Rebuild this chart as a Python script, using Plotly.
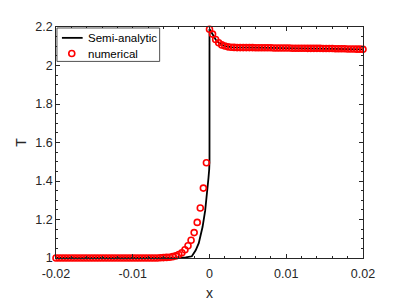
import plotly.graph_objects as go

# ---- data ----
# numerical solution on a uniform grid x = -0.02 ... 0.02 (step 0.0004)
X_START = -0.02
X_STEP = 0.0004
NUM_T = [
    1.000, 1.000, 1.000, 1.000, 1.000, 1.000, 1.000, 1.000, 1.000, 1.000,
    1.000, 1.000, 1.000, 1.000, 1.000, 1.000, 1.000, 1.000, 1.000, 1.000,
    1.000, 1.000, 1.000, 1.000, 1.000, 1.000, 1.000, 1.000, 1.000, 1.000,
    1.000, 1.000, 1.000, 1.000, 1.001, 1.002, 1.003, 1.004, 1.007, 1.011,
    1.018, 1.027, 1.043, 1.064, 1.092, 1.132, 1.185, 1.260, 1.363, 1.495,
    2.188,
    2.163, 2.135, 2.118, 2.107, 2.101, 2.097, 2.095, 2.094, 2.093, 2.093,
    2.093, 2.093, 2.093, 2.093, 2.092, 2.092, 2.092, 2.092, 2.092, 2.092,
    2.091, 2.091, 2.091, 2.091, 2.091, 2.091, 2.090, 2.090, 2.090, 2.090,
    2.090, 2.089, 2.089, 2.089, 2.089, 2.089, 2.088, 2.088, 2.088, 2.088,
    2.087, 2.087, 2.087, 2.087, 2.086, 2.086, 2.086, 2.085, 2.085, 2.084,
]

# semi-analytic solution
LINE_X = [-0.02, -0.008, -0.006, -0.005, -0.004, -0.0031, -0.0023, -0.0018,
          -0.0014, -0.0009, -0.00056, -0.00031, -0.00013, -0.00004, 0.0, 0.0,
          0.0004, 0.0008, 0.0012, 0.0016, 0.002, 0.003, 0.005, 0.01, 0.015, 0.02]
LINE_T = [1.0, 1.0, 1.0, 1.0003, 1.001, 1.003, 1.009, 1.04,
          1.077, 1.162, 1.247, 1.332, 1.417, 1.46, 1.5, 2.19,
          2.163, 2.135, 2.118, 2.107, 2.100, 2.094, 2.092, 2.090, 2.087, 2.084]

SERIES_NAMES = ["Semi-analytic", "numerical"]
X_TICKS = [-0.02, -0.01, 0, 0.01, 0.02]
X_TICK_LABELS = ["-0.02", "-0.01", "0", "0.01", "0.02"]
Y_TICKS = [1, 1.2, 1.4, 1.6, 1.8, 2, 2.2]
Y_TICK_LABELS = ["1", "1.2", "1.4", "1.6", "1.8", "2", "2.2"]

AX = "#262626"
RED = "#ff0000"
FONT = "Liberation Sans, Arial, Helvetica, sans-serif"

fig = go.Figure()
fig.add_trace(go.Scatter(
    x=LINE_X, y=LINE_T, mode="lines", name=SERIES_NAMES[0],
    line=dict(color="black", width=1.8), cliponaxis=False, showlegend=False,
))
fig.add_trace(go.Scatter(
    x0=X_START, dx=X_STEP, y=NUM_T, mode="markers", name=SERIES_NAMES[1],
    marker=dict(symbol="circle-open", size=6, color=RED,
                line=dict(width=1.6, color=RED)),
    cliponaxis=False, showlegend=False,
))

axis_common = dict(
    showline=True, linecolor=AX, linewidth=0.8, mirror="allticks",
    ticks="inside", ticklen=4, tickcolor=AX, tickwidth=0.8,
    showgrid=False, zeroline=False,
    tickfont=dict(family=FONT, size=12.5, color=AX),
)

fig.update_xaxes(
    range=[-0.02, 0.02], tickvals=X_TICKS, ticktext=X_TICK_LABELS,
    ticklabelstandoff=4,
    title=dict(text="x", font=dict(family=FONT, size=14, color=AX)),
    minor=dict(ticks="inside", dtick=0.002, ticklen=2, tickcolor=AX, tickwidth=0.8),
    automargin=False,
    **axis_common,
)
fig.update_yaxes(
    range=[1, 2.2], tickvals=Y_TICKS, ticktext=Y_TICK_LABELS,
    title=dict(text="T", font=dict(family=FONT, size=14, color=AX), standoff=5),
    minor=dict(ticks="inside", dtick=0.05, ticklen=2, tickcolor=AX, tickwidth=0.8),
    automargin=True,
    **axis_common,
)

# legend box drawn in paper coordinates (MATLAB-style compact legend)
shapes = [
    dict(type="rect", xref="paper", yref="paper", x0=0.0032, x1=0.3376,
         y0=0.851, y1=0.9957, fillcolor="white", line=dict(color=AX, width=0.8),
         layer="above"),
    dict(type="line", xref="paper", yref="paper", x0=0.0193, x1=0.0868,
         y0=0.953, y1=0.953, line=dict(color="black", width=1.8), layer="above"),
    dict(type="circle", xref="paper", yref="paper", xsizemode="pixel",
         ysizemode="pixel", xanchor=0.0514, yanchor=0.885,
         x0=-3, x1=3, y0=-3, y1=3, line=dict(color=RED, width=1.6), layer="above"),
]
annotations = [
    dict(text=SERIES_NAMES[0], xref="paper", yref="paper", x=0.0965, y=0.953,
         xanchor="left", yanchor="middle", showarrow=False,
         font=dict(family=FONT, size=11.5, color="black")),
    dict(text=SERIES_NAMES[1], xref="paper", yref="paper", x=0.0965, y=0.885,
         xanchor="left", yanchor="middle", showarrow=False,
         font=dict(family=FONT, size=11.5, color="black")),
]

fig.update_layout(
    width=394, height=293,
    margin=dict(l=44, r=39, t=15, b=43),
    paper_bgcolor="white", plot_bgcolor="white",
    showlegend=False,
    shapes=shapes, annotations=annotations,
)

fig.write_html("out.html")
